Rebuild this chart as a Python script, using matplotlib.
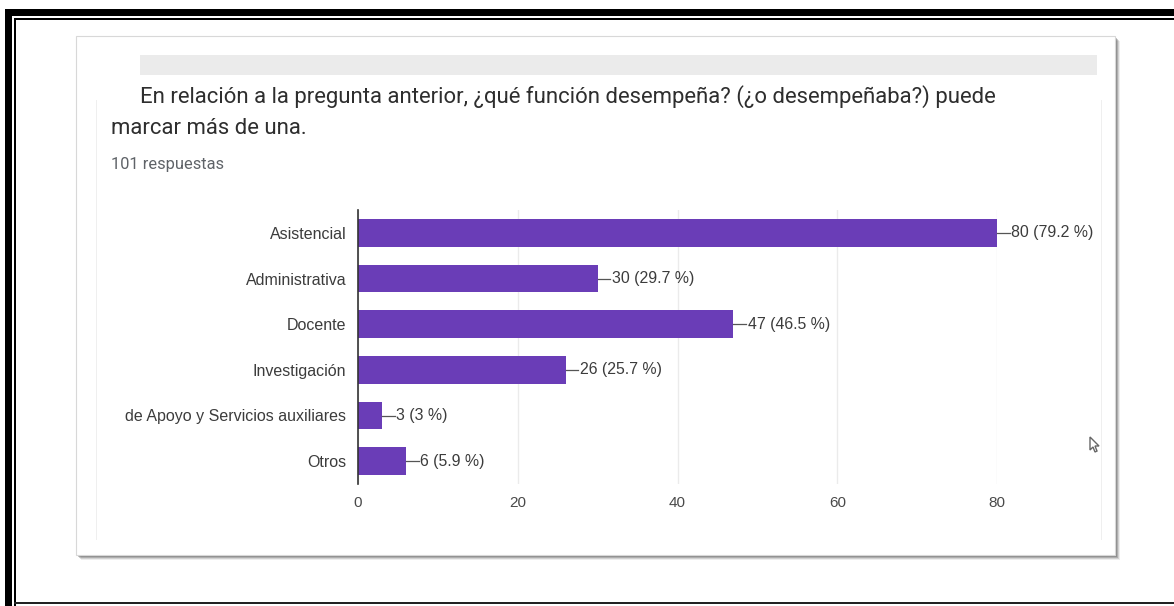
import matplotlib
matplotlib.use("Agg")
import matplotlib.pyplot as plt
from matplotlib.patches import Rectangle, Polygon

# Survey results (multiple choice, 101 respondents)
categories = [
    "Asistencial",
    "Administrativa",
    "Docente",
    "Investigación",
    "de Apoyo y Servicios auxiliares",
    "Otros",
]
counts = [80, 30, 47, 26, 3, 6]
percents = ["79.2", "29.7", "46.5", "25.7", "3", "5.9"]
xticks = [0, 20, 40, 60, 80]

title_1 = "En relación a la pregunta anterior, ¿qué función desempeña? (¿o desempeñaba?) puede"
title_2 = "marcar más de una."
subtitle = "101 respuestas"

W, H = 1174, 606
BAR = "#6a3db7"


def px(x, y):
    """Pixel coords (origin top-left) to figure fraction."""
    return x / W, 1 - y / H


def rect(fig, x0, y0, x1, y1, **kw):
    fx, fy = px(x0, y1)
    fig.patches.append(Rectangle((fx, fy), (x1 - x0) / W, (y1 - y0) / H,
                                 transform=fig.transFigure, zorder=-5, **kw))


fig = plt.figure(figsize=(W / 100, H / 100), dpi=100)
fig.patch.set_facecolor("white")

# frame around the screenshot
rect(fig, 5, 9, W, 16, facecolor="black", edgecolor="none")
rect(fig, 15, 18, W, 19.6, facecolor="black", edgecolor="none")
rect(fig, 5, 9, 12, H, facecolor="black", edgecolor="none")
rect(fig, 14.5, 18, 16, H, facecolor="black", edgecolor="none")
rect(fig, 14.5, 602, W, 604, facecolor="#222222", edgecolor="none")

# card with soft drop shadow
for off, a in [(5, 0.10), (4, 0.18), (3, 0.28), (2, 0.35)]:
    rect(fig, 76 + off, 36 + off, 1115 + off, 555 + off,
         facecolor="#555555", edgecolor="none", alpha=a)
rect(fig, 76, 36, 1115, 555, facecolor="white", edgecolor="#d8d8d8", linewidth=0.8)
rect(fig, 96, 100, 97, 540, facecolor="#efefef", edgecolor="none")
rect(fig, 1101, 100, 1102, 540, facecolor="#efefef", edgecolor="none")
rect(fig, 140, 55, 1097, 75, facecolor="#ebebeb", edgecolor="none")

fig.text(*px(140, 97), title_1, fontsize=15.9, family="Roboto", color="#2e2e2e", va="center")
fig.text(*px(111, 129), title_2, fontsize=15.9, family="Roboto", color="#2e2e2e", va="center")
fig.text(*px(111, 165), subtitle, fontsize=11.8, family="Roboto", color="#5f6368", va="center")

# mouse pointer left in the capture
pointer = [(1090, 437), (1090, 450), (1093, 447), (1095, 452), (1097, 451),
           (1095, 446), (1099, 446)]
fig.patches.append(Polygon([px(x, y) for x, y in pointer], closed=True,
                           transform=fig.transFigure, facecolor="white",
                           edgecolor="#666666", linewidth=1.0))

# bar chart area
l, b = px(358, 484)
r, t = px(997, 210)
ax = fig.add_axes([l, b, r - l, t - b])
ax.set_facecolor("none")
ypos = range(len(categories))
ax.barh(ypos, counts, height=0.61, color=BAR, zorder=3)
ax.set_xlim(0, 80)
ax.set_ylim(len(categories) - 0.5, -0.5)
ax.set_yticks(list(ypos))
ax.set_yticklabels(categories, fontsize=11.5, family="Liberation Sans", color="#3c3c3c")
ax.set_xticks(xticks)
ax.set_xticklabels([str(v) for v in xticks], fontsize=11, family="Liberation Sans", color="#4a4a4a")
ax.tick_params(axis="x", length=0, pad=8.5)
ax.tick_params(axis="y", length=0, pad=8.5)
ax.grid(axis="x", color="#ebebeb", linewidth=1, zorder=0)
for s in ["top", "right", "bottom"]:
    ax.spines[s].set_visible(False)
ax.spines["left"].set_color("#333333")
ax.spines["left"].set_linewidth(1.2)
ax.spines["left"].set_zorder(4)

# value annotations with a short leader line
for i, (c, p) in enumerate(zip(counts, percents)):
    ax.plot([c, c + 1.6], [i, i], color="#555555", linewidth=0.9, clip_on=False, zorder=4)
    ax.text(c + 1.8, i, f"{c} ({p} %)", fontsize=11.4, family="Liberation Sans",
            color="#3c3c3c", va="center", ha="left", clip_on=False)

fig.savefig("out.png", dpi=100)
